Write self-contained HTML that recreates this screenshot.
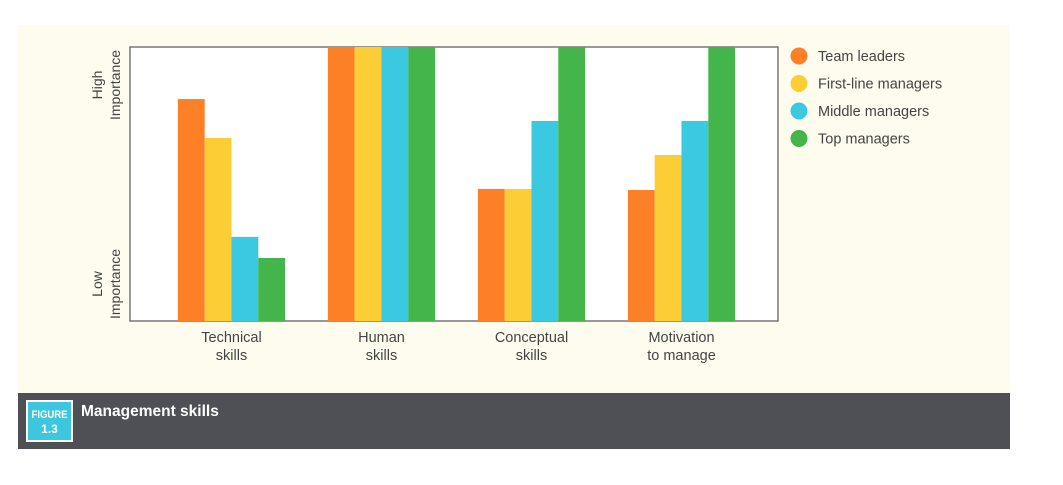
<!DOCTYPE html>
<html><head><meta charset="utf-8"><style>
body{margin:0;background:#fff;font-family:"Liberation Sans",sans-serif}
svg{display:block}
</style></head><body>
<svg width="1063" height="485" viewBox="0 0 1063 485">
<rect x="18" y="25" width="992" height="368" fill="#fdfcee"/>
<rect x="130" y="47" width="648" height="274" fill="#fff" stroke="#555" stroke-width="1.2"/>
<g id="bars"></g>
<g id="xlabels" font-size="14.5" fill="#444" text-anchor="middle"></g>
<g font-size="14" fill="#444" text-anchor="middle">
<text transform="translate(102,85) rotate(-90)">High</text>
<text transform="translate(120,85) rotate(-90)">Importance</text>
<text transform="translate(102,284) rotate(-90)">Low</text>
<text transform="translate(120,284) rotate(-90)">Importance</text>
</g>
<g id="legend" font-size="14.5" fill="#444"></g>
<rect x="18" y="393" width="992" height="56" fill="#4f5055"/>
<rect x="27" y="401" width="45" height="40" fill="#3cc6e0" stroke="#fff" stroke-width="2"/>
<text x="49.5" y="418" font-size="11" font-weight="bold" fill="#fff" text-anchor="middle" textLength="36" lengthAdjust="spacingAndGlyphs">FIGURE</text>
<text x="49.5" y="433" font-size="12" font-weight="bold" fill="#fff" text-anchor="middle">1.3</text>
<text x="81" y="416" font-size="15.5" font-weight="bold" fill="#fff">Management skills</text>
</svg>
<script>
const categories=[["Technical","skills"],["Human","skills"],["Conceptual","skills"],["Motivation","to manage"]];
const seriesNames=["Team leaders","First-line managers","Middle managers","Top managers"];
const teamLeaders=[0.81,1.0,0.482,0.478];
const firstLine=[0.668,1.0,0.482,0.606];
const middleMgr=[0.307,1.0,0.73,0.73];
const topMgr=[0.23,1.0,1.0,1.0];
const series=[teamLeaders,firstLine,middleMgr,topMgr];
const colors=["#fd7f26","#fdcd36","#3bc9e2","#43b54a"];
const NS="http://www.w3.org/2000/svg";
const py0=47,ph=274,bw=26.8;
function xCenter(i){return 231.5+150*i;}
function yPos(v){return py0+ph*(1-v);}
const barsG=document.getElementById('bars');
const xl=document.getElementById('xlabels');
categories.forEach((c,i)=>{
  series.forEach((s,j)=>{
    const r=document.createElementNS(NS,'rect');
    const x=xCenter(i)-2*bw+j*bw;
    r.setAttribute('x',x);r.setAttribute('y',yPos(s[i]));
    r.setAttribute('width',bw);r.setAttribute('height',yPos(0)-yPos(s[i]));
    r.setAttribute('fill',colors[j]);
    
    
    barsG.appendChild(r);
  });
  c.forEach((line,k)=>{
    const t=document.createElementNS(NS,'text');
    t.setAttribute('x',xCenter(i));t.setAttribute('y',342+k*18);
    t.textContent=line;
    
    
    xl.appendChild(t);
  });
});
const lg=document.getElementById('legend');
seriesNames.forEach((n,j)=>{
  const y=56+j*27.5;
  const c=document.createElementNS(NS,'circle');
  c.setAttribute('cx',799);c.setAttribute('cy',y);c.setAttribute('r',8.5);c.setAttribute('fill',colors[j]);
  
  
  lg.appendChild(c);
  const t=document.createElementNS(NS,'text');
  t.setAttribute('x',818);t.setAttribute('y',y+5);t.textContent=n;
  
  
  lg.appendChild(t);
});
</script>
</body></html>
